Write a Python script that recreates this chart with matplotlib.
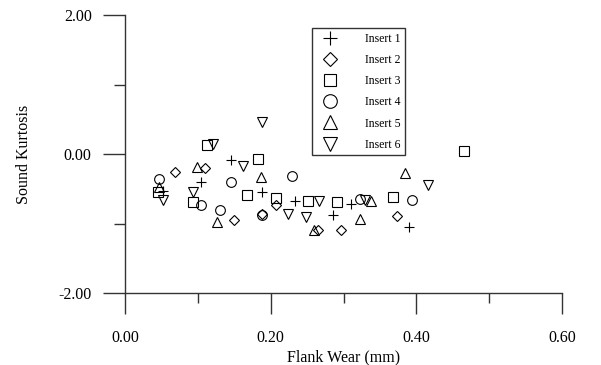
import matplotlib
matplotlib.use("Agg")
import matplotlib.pyplot as plt
from matplotlib.ticker import FormatStrFormatter, MultipleLocator

plt.rcParams["font.family"] = ["Liberation Serif", "DejaVu Serif"]
plt.rcParams["axes.unicode_minus"] = False

# flank wear (mm) and sound kurtosis per insert
ins1_x = [0.052, 0.105, 0.146, 0.188, 0.234, 0.285, 0.310, 0.390]
ins1_y = [-0.53, -0.41, -0.09, -0.54, -0.68, -0.88, -0.72, -1.05]

ins2_x = [0.068, 0.110, 0.150, 0.188, 0.208, 0.265, 0.297, 0.374]
ins2_y = [-0.26, -0.20, -0.95, -0.86, -0.73, -1.09, -1.09, -0.89]

ins3_x = [0.045, 0.094, 0.113, 0.167, 0.182, 0.208, 0.251, 0.291, 0.368, 0.466]
ins3_y = [-0.55, -0.69, 0.13, -0.59, -0.07, -0.63, -0.68, -0.69, -0.62, 0.05]

ins4_x = [0.047, 0.105, 0.130, 0.146, 0.188, 0.229, 0.322, 0.394]
ins4_y = [-0.36, -0.73, -0.80, -0.41, -0.88, -0.32, -0.65, -0.66]

ins5_x = [0.047, 0.099, 0.126, 0.187, 0.260, 0.322, 0.338, 0.384]
ins5_y = [-0.47, -0.18, -0.98, -0.33, -1.09, -0.94, -0.67, -0.27]

ins6_x = [0.052, 0.094, 0.121, 0.162, 0.188, 0.224, 0.249, 0.266, 0.330, 0.416]
ins6_y = [-0.66, -0.55, 0.14, -0.17, 0.465, -0.87, -0.91, -0.68, -0.66, -0.45]

series = [
    ("Insert 1", ins1_x, ins1_y, "+"),
    ("Insert 2", ins2_x, ins2_y, "D"),
    ("Insert 3", ins3_x, ins3_y, "s"),
    ("Insert 4", ins4_x, ins4_y, "o"),
    ("Insert 5", ins5_x, ins5_y, "^"),
    ("Insert 6", ins6_x, ins6_y, "v"),
]
sizes = {"+": 7.5, "D": 5, "s": 6.5, "o": 7, "^": 7, "v": 7}

fig = plt.figure(figsize=(6.01, 3.65), dpi=100)
ax = fig.add_axes([125 / 601, 1 - 293 / 365, 437 / 601, 278 / 365])

for label, xs, ys, m in series:
    ax.plot(xs, ys, linestyle="none", marker=m, markersize=sizes[m],
            markerfacecolor="none", markeredgecolor="black",
            markeredgewidth=0.8, color="black", label=label)

ax.set_xlim(0, 0.6)
ax.set_ylim(-2, 2)
ax.xaxis.set_major_locator(MultipleLocator(0.2))
ax.xaxis.set_minor_locator(MultipleLocator(0.1))
ax.yaxis.set_major_locator(MultipleLocator(2))
ax.yaxis.set_minor_locator(MultipleLocator(1))
ax.xaxis.set_major_formatter(FormatStrFormatter("%.2f"))
ax.yaxis.set_major_formatter(FormatStrFormatter("%.2f"))

for side in ("top", "right"):
    ax.spines[side].set_visible(False)
for side in ("left", "bottom"):
    ax.spines[side].set_color("#333333")
    ax.spines[side].set_linewidth(1.0)

ax.tick_params(axis="x", which="major", direction="out", length=15, width=1.0,
               color="#333333", pad=12, labelsize=11.5)
ax.tick_params(axis="x", which="minor", direction="out", length=7.5, width=1.0,
               color="#333333")
ax.tick_params(axis="y", which="major", direction="out", length=16, width=1.0,
               color="#333333", pad=8, labelsize=11.5)
ax.tick_params(axis="y", which="minor", direction="out", length=8, width=1.0,
               color="#333333")

ax.set_xlabel("Flank Wear (mm)", fontsize=11.5, labelpad=2)
ax.set_ylabel("Sound Kurtosis", fontsize=11.5, labelpad=19)

leg = ax.legend(loc="upper left", bbox_to_anchor=((312 - 125) / 437, (293 - 28) / 278),
                fontsize=8.5, frameon=True, fancybox=False, markerscale=1.4,
                labelspacing=0.78, handlelength=2.2, handletextpad=1.9,
                borderpad=0.4, borderaxespad=0)
leg.get_frame().set_edgecolor("black")
leg.get_frame().set_linewidth(1.0)

fig.savefig("out.png", dpi=100)
